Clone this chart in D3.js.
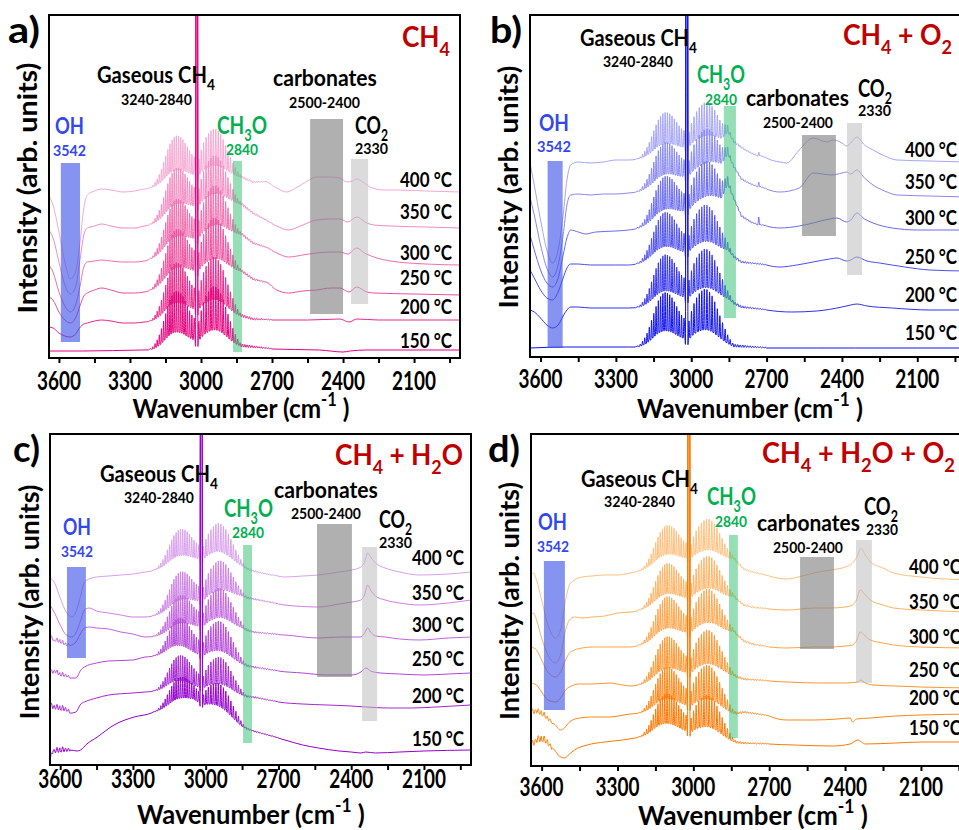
<!DOCTYPE html>
<html><head><meta charset="utf-8">
<script src="https://cdn.jsdelivr.net/npm/d3@7"></script>
<style>html,body{margin:0;padding:0;background:#fff;} svg{display:block}</style>
</head><body>
<svg id="chart" width="959" height="830"></svg>
<script>
const FONT = "Lato, 'Open Sans', 'DejaVu Sans', sans-serif";

// ---------- axis ----------
const xDomain = [3642, 1906];
const ticksMajor = [3600, 3300, 3000, 2700, 2400, 2100];
const ticksMinor = [3450, 3150, 2850, 2550, 2250, 1950];
const temps = ["150 °C", "200 °C", "250 °C", "300 °C", "350 °C", "400 °C"];

// ---------- gas-phase CH4 rotational lines (cm-1) and relative heights ----------
const rLines = [3028.8, 3038.5, 3048.2, 3057.7, 3067.3, 3076.5, 3085.7, 3094.8, 3104.0, 3113.0, 3122.0, 3131.0, 3140.0, 3149.0, 3158.0, 3167.0, 3176.0, 3185.0, 3194.0, 3203.0, 3212.0];
const rRel   = [0.50, 0.55, 0.62, 0.70, 0.78, 0.85, 0.90, 0.93, 0.94, 0.92, 0.87, 0.80, 0.70, 0.58, 0.46, 0.34, 0.24, 0.16, 0.10, 0.05, 0.02];
const pLines = [3009.0, 2999.0, 2989.0, 2978.5, 2968.0, 2958.0, 2948.0, 2937.5, 2927.0, 2917.0, 2906.5, 2896.0, 2886.0, 2875.5, 2865.0, 2855.0, 2845.0, 2835.0];
const pRel   = [0.45, 0.62, 0.75, 0.85, 0.92, 0.97, 1.00, 0.99, 0.95, 0.88, 0.78, 0.66, 0.54, 0.42, 0.31, 0.21, 0.13, 0.07];
const qLines = [3019.5, 3016.5];
const qHeight = 1000;
const weakLines = [2825, 2815, 2805, 2795, 2785, 2775, 2765, 2755, 2745, 2735, 2725, 2715, 2705];
const weakRel   = [0.05, 0.045, 0.04, 0.04, 0.035, 0.03, 0.03, 0.025, 0.025, 0.02, 0.02, 0.015, 0.01];
const h2oLines = [3636, 3625, 3613, 3601, 3590, 3578, 3566];
const h2oRel   = [1.0, 0.6, 1.0, 0.8, 1.0, 0.6, 0.5];

// ---------- panel a: CH4 ----------
const a150 = [[3642,7],[3500,7],[3250,8],[3000,9],[2830,11],[2700,9],[2500,8],[2400,6],[2370,7],[2300,8],[2100,8],[1906,8]];
const a200 = [[3642,31],[3625,30],[3600,25],[3575,22],[3552,21],[3530,24],[3510,31],[3495,34],[3480,35],[3450,37],[3420,38],[3380,37],[3330,35],[3280,35],[3240,36],[3150,38],[3050,40],[2950,41],[2830,41],[2780,38],[2700,38],[2550,38],[2413,39],[2375,36],[2342,39],[2250,38],[2100,38],[1906,38]];
const a250 = [[3642,61],[3625,58],[3600,46],[3575,38],[3552,35],[3530,40],[3510,53],[3495,62],[3480,65],[3450,68],[3420,70],[3380,68],[3330,65],[3280,65],[3240,66],[3150,71],[3050,78],[2950,82],[2870,85],[2830,86],[2780,78],[2720,75],[2680,68],[2630,65],[2570,67],[2512,68],[2450,70],[2413,70],[2375,66],[2342,71],[2300,66],[2270,65],[2100,64],[1906,63]];
const a300 = [[3642,93],[3625,86],[3600,66],[3575,52],[3552,46],[3530,53],[3510,73],[3495,91],[3480,96],[3450,97],[3420,98],[3380,97],[3330,96],[3280,96],[3240,97],[3150,103],[3050,110],[2950,116],[2870,121],[2830,123],[2780,114],[2720,110],[2680,105],[2630,101],[2570,103],[2512,105],[2450,106],[2413,106],[2380,104],[2342,110],[2310,105],[2270,101],[2200,97],[2050,94],[1906,93]];
const a350 = [[3642,128],[3625,120],[3600,96],[3575,73],[3552,64],[3530,71],[3510,100],[3495,123],[3480,130],[3450,132],[3420,134],[3380,132],[3330,130],[3280,130],[3240,132],[3150,136],[3050,143],[2950,148],[2870,152],[2830,153],[2780,144],[2730,138],[2680,132],[2630,128],[2570,133],[2512,138],[2450,139],[2413,139],[2380,136],[2342,141],[2300,135],[2270,133],[2200,132],[2050,131],[1906,130]];
const a400 = [[3642,162],[3625,153],[3600,126],[3575,96],[3552,79],[3530,86],[3510,118],[3495,150],[3480,163],[3450,167],[3420,169],[3380,168],[3330,166],[3280,167],[3240,169],[3150,172],[3050,175],[2950,177],[2870,179],[2830,180],[2780,175],[2723,176],[2680,170],[2638,166],[2600,170],[2550,177],[2512,181],[2450,181],[2413,180],[2384,176],[2360,177],[2342,179],[2310,175],[2286,171],[2230,168],[2173,168],[2050,167],[1906,166]];
const ampA = [62, 60, 58, 56, 54, 52];
const h2oA = [0, 0, 0, 0, 0, 0];
const colA = ["#e5007d", "#e8288c", "#ec509f", "#f06eb0", "#f38cc2", "#f6a9d3"];

// ---------- panel b: CH4 + O2 ----------
const b150 = [[3642,9],[3500,10],[3250,10],[3000,10],[2850,10],[2700,9],[2500,9],[2350,9],[2100,9],[1906,9]];
const b200 = [[3642,47],[3625,45],[3600,39],[3575,32],[3552,29],[3530,32],[3510,41],[3495,47],[3480,50],[3450,50],[3400,49],[3300,49],[3250,49],[3150,50],[2950,53],[2850,55],[2800,49],[2700,47],[2600,45],[2500,46],[2400,50],[2365,52],[2341,53],[2300,51],[2200,49],[2050,47],[1906,47]];
const b250 = [[3642,87],[3625,79],[3600,67],[3575,59],[3552,57],[3530,65],[3510,79],[3495,89],[3480,93],[3450,93],[3400,92],[3300,92],[3250,92],[3150,95],[3050,97],[2950,100],[2880,102],[2855,104],[2830,99],[2800,94],[2700,92],[2647,90],[2580,92],[2515,95],[2450,98],[2420,99],[2381,96],[2365,97],[2341,100],[2300,96],[2250,94],[2150,90],[2050,87],[1906,86]];
const b300 = [[3642,122],[3625,107],[3600,87],[3575,74],[3552,70],[3530,79],[3510,102],[3495,119],[3480,127],[3450,125],[3420,123],[3380,125],[3300,126],[3250,127],[3150,131],[3050,137],[2950,145],[2880,152],[2855,170],[2830,157],[2800,140],[2760,134],[2735,132],[2731,140],[2727,132],[2700,131],[2647,129],[2570,131],[2515,134],[2450,138],[2420,139],[2381,135],[2365,137],[2341,144],[2310,138],[2276,134],[2200,129],[2100,127],[1906,127]];
const b350 = [[3642,160],[3625,142],[3600,112],[3575,89],[3552,80],[3530,92],[3510,122],[3495,152],[3480,162],[3450,163],[3400,162],[3350,163],[3300,163],[3250,164],[3150,167],[3050,172],[2950,179],[2880,187],[2855,200],[2830,189],[2800,177],[2760,172],[2735,170],[2731,175],[2727,170],[2700,168],[2647,165],[2570,169],[2515,184],[2440,182],[2400,184],[2381,185],[2365,183],[2341,187],[2310,179],[2276,172],[2230,166],[2180,162],[2050,161],[1906,160]];
const b400 = [[3642,194],[3625,172],[3600,137],[3575,107],[3552,94],[3530,107],[3510,142],[3495,177],[3480,192],[3450,195],[3400,194],[3350,195],[3300,197],[3250,197],[3150,199],[3050,202],[2950,207],[2880,212],[2855,222],[2830,214],[2790,207],[2750,202],[2735,201],[2731,205],[2727,201],[2700,199],[2647,195],[2620,194],[2570,207],[2515,219],[2460,215],[2435,217],[2400,214],[2381,211],[2365,214],[2341,220],[2310,212],[2276,207],[2230,201],[2181,197],[2050,196],[1906,195]];
const ampB = [58, 55, 52, 50, 48, 47];
const h2oB = [0, 0, 0, 0, 0, 0];
const colB = ["#1010f0", "#3030f0", "#4d4df0", "#6a6af2", "#8888f4", "#a5a5f7"];

// ---------- panel c: CH4 + H2O ----------
const c150 = [[3642,3],[3630,13],[3600,14],[3560,15],[3530,14],[3516,15],[3490,21],[3447,28],[3378,40],[3295,48],[3208,53],[3130,57],[3050,60],[2950,50],[2850,37],[2798,33],[2700,27],[2673,25],[2600,20],[2535,17],[2450,14],[2400,13],[2360,12],[2340,13],[2300,12],[2200,13],[2100,14],[1906,15]];
const c200 = [[3642,58],[3600,56],[3575,55],[3552,52],[3535,53],[3515,61],[3500,63],[3450,67],[3400,70],[3300,72],[3250,73],[3150,75],[3050,73],[2950,70],[2850,68],[2798,67],[2700,63],[2600,61],[2500,60],[2400,59],[2340,58],[2250,57],[2150,57],[2050,58],[1906,60]];
const c250 = [[3642,92],[3620,93],[3600,90],[3575,89],[3552,87],[3535,87],[3515,95],[3500,98],[3450,102],[3400,104],[3300,105],[3250,108],[3150,110],[3050,105],[2950,102],[2850,99],[2798,97],[2700,94],[2600,92],[2500,90],[2400,90],[2360,93],[2340,97],[2320,94],[2280,92],[2200,91],[2100,90],[2000,91],[1906,92]];
const c300 = [[3642,127],[3625,125],[3600,123],[3575,120],[3552,120],[3535,123],[3515,132],[3500,137],[3480,138],[3450,137],[3400,136],[3350,133],[3300,131],[3250,128],[3150,129],[3050,132],[2950,135],[2850,135],[2798,132],[2673,130],[2535,127],[2450,128],[2397,128],[2360,128],[2345,132],[2332,137],[2320,133],[2300,129],[2260,128],[2200,126],[2119,125],[2000,127],[1906,128]];
const c350 = [[3642,160],[3625,153],[3600,140],[3575,130],[3552,128],[3535,132],[3515,145],[3500,155],[3480,157],[3450,154],[3400,152],[3350,150],[3300,148],[3250,148],[3150,151],[3050,157],[2950,162],[2850,167],[2798,165],[2673,160],[2535,158],[2450,161],[2397,163],[2360,165],[2345,170],[2332,180],[2320,175],[2300,169],[2260,165],[2200,162],[2119,160],[2000,162],[1906,165]];
const c400 = [[3642,187],[3625,183],[3600,167],[3575,153],[3552,148],[3535,153],[3515,170],[3500,183],[3480,186],[3450,188],[3400,189],[3350,190],[3300,191],[3250,193],[3150,197],[3050,200],[2950,202],[2850,197],[2798,193],[2740,190],[2673,188],[2600,189],[2535,190],[2450,193],[2397,195],[2360,198],[2345,203],[2332,212],[2320,208],[2300,202],[2260,197],[2200,193],[2119,190],[2000,191],[1906,193]];
const ampC = [32, 38, 42, 42, 42, 40];
const h2oC = [4, 4, 3, 3, 0, 0];
const colC = ["#9400cc", "#a524d2", "#b445d8", "#c163de", "#cd80e5", "#d9a0ec"];

// ---------- panel d: CH4 + H2O + O2 ----------
const d150 = [[3642,19],[3620,25],[3600,26],[3580,24],[3560,18],[3530,10],[3510,8],[3490,12],[3470,16],[3420,21],[3350,24],[3280,26],[3230,28],[3150,31],[3050,29],[2950,26],[2840,23],[2800,22],[2700,22],[2600,21],[2450,20],[2380,22],[2350,26],[2335,24],[2320,22],[2200,23],[2100,24],[1906,24]];
const d200 = [[3642,53],[3620,54],[3600,52],[3580,48],[3550,42],[3525,36],[3510,38],[3490,44],[3450,48],[3400,49],[3330,49],[3250,52],[3150,54],[3050,54],[2950,53],[2840,51],[2800,53],[2761,52],[2700,50],[2629,46],[2524,46],[2430,47],[2380,48],[2370,44],[2355,47],[2300,48],[2200,50],[2100,51],[1906,52]];
const d250 = [[3642,83],[3620,81],[3600,74],[3575,66],[3545,64],[3525,68],[3505,76],[3490,79],[3450,82],[3400,82],[3330,83],[3280,81],[3250,80],[3150,83],[3050,86],[2950,88],[2840,89],[2800,86],[2700,85],[2629,84],[2500,83],[2400,83],[2350,84],[2340,86],[2320,83],[2290,81],[2200,80],[2100,79],[1906,78]];
const d300 = [[3642,119],[3620,116],[3600,106],[3575,94],[3545,89],[3525,94],[3505,106],[3490,113],[3470,116],[3440,118],[3400,119],[3300,119],[3250,119],[3150,123],[3050,126],[2950,129],[2870,131],[2840,133],[2800,124],[2761,121],[2700,119],[2629,118],[2524,119],[2457,119],[2400,120],[2370,121],[2355,125],[2340,134],[2320,130],[2300,126],[2250,123],[2208,121],[2100,119],[1906,118]];
const d350 = [[3642,151],[3632,153],[3620,146],[3600,128],[3575,111],[3545,103],[3525,111],[3505,136],[3490,146],[3470,149],[3440,148],[3400,149],[3350,150],[3300,153],[3250,154],[3150,158],[3050,161],[2950,164],[2870,166],[2840,168],[2800,160],[2761,158],[2700,157],[2629,156],[2524,158],[2457,158],[2400,159],[2370,161],[2355,166],[2340,176],[2320,171],[2300,166],[2250,161],[2208,158],[2100,156],[1906,154]];
const d400 = [[3642,191],[3632,193],[3620,186],[3600,166],[3575,141],[3545,128],[3525,136],[3505,166],[3490,181],[3470,186],[3440,189],[3400,190],[3350,191],[3300,191],[3250,193],[3150,198],[3050,201],[2950,203],[2870,204],[2840,206],[2800,196],[2761,193],[2700,190],[2629,187],[2570,190],[2524,193],[2457,196],[2400,199],[2370,203],[2350,211],[2338,218],[2320,211],[2300,204],[2250,198],[2208,193],[2100,189],[1906,186]];
const ampD = [45, 48, 48, 48, 46, 44];
const h2oD = [5, 4, 0, 0, 0, 0];
const colD = ["#ff7700", "#ff8614", "#ff952e", "#ffa448", "#ffb262", "#ffc07d"];

// ---------- annotation bands (cm-1 ranges) ----------
const ohBand = { a: [3592, 3511], b: [3572, 3512], c: [3572, 3494], d: [3591, 3508] };
const ch3oBand = { a: [2865, 2827], b: [2870, 2822], c: [2846, 2809], d: [2859, 2824] };
const carbBand = { a: [2539, 2400], b: [2559, 2424], c: [2541, 2397], d: [2578, 2444] };
const co2Band = { a: [2366, 2294], b: [2380, 2320], c: [2355, 2293], d: [2357, 2294] };

// ================= drawing =================
const svg = d3.select('#chart');
const defs = svg.append('defs');

function label(parent, o) {
  const g = parent.append('g');
  const t = g.append('text').attr('font-family', FONT).attr('font-size', o.size)
    .attr('font-weight', o.weight || 'bold').attr('fill', o.fill || '#000');
  let shift = 0;
  o.parts.forEach(p => {
    const isObj = typeof p === 'object';
    const kind = isObj ? p.k : 'n';
    const str = isObj ? p.t : p;
    const ts = t.append('tspan').text(str);
    const target = kind === 'sub' ? 0.3 * o.size : kind === 'sup' ? -0.45 * o.size : 0;
    if (target !== shift) { ts.attr('dy', target - shift); shift = target; }
    if (kind !== 'n') ts.attr('font-size', o.size * 0.68);
  });
  const w = t.node().getComputedTextLength();
  const sx = o.width ? o.width / w : 1;
  const tw = w * sx;
  const x0 = o.anchor === 'middle' ? o.x - tw / 2 : o.anchor === 'end' ? o.x - tw : o.x;
  g.attr('transform', `translate(${x0},${o.y}) scale(${sx},1)`);
  return g;
}

const TF = 0.3;
function addGap(pts, bs, amp, c1, e1, c2, e2) {
  // trough between two neighbouring lines c1 > c2
  const a = c1 - (c1 - c2) * 0.32, b = c1 - (c1 - c2) * 0.68;
  const v = amp * TF * (e1 + e2) / 2;
  pts.push([a, bs(a) + v]);
  pts.push([b, bs(b) + v]);
}
function buildSpectrum(base, amp, h2oAmp) {
  const bs = d3.scaleLinear().domain(base.map(d => d[0])).range(base.map(d => d[1]));
  const pts = base.filter(d => d[0] > 3225 || d[0] < 2830).map(d => [d[0], d[1]]);
  pts.push([3222, bs(3222)]);
  for (let i = rLines.length - 1; i >= 0; i--) {
    pts.push([rLines[i], bs(rLines[i]) + amp * rRel[i]]);
    if (i > 0) addGap(pts, bs, amp, rLines[i], rRel[i], rLines[i - 1], rRel[i - 1]);
  }
  pts.push([3023, bs(3023) + amp * TF * rRel[0] * 0.3]);
  qLines.forEach(c => pts.push([c, bs(c) + qHeight]));
  pts.push([3013, bs(3013) + amp * TF * pRel[0] * 0.3]);
  for (let i = 0; i < pLines.length; i++) {
    pts.push([pLines[i], bs(pLines[i]) + amp * pRel[i]]);
    if (i < pLines.length - 1) addGap(pts, bs, amp, pLines[i], pRel[i], pLines[i + 1], pRel[i + 1]);
  }
  pts.push([2830, bs(2830)]);
  weakLines.forEach((c, i) => {
    pts.push([c, bs(c) + amp * weakRel[i]]);
    pts.push([c - 5, bs(c - 5)]);
  });
  if (h2oAmp > 0) {
    h2oLines.forEach((c, i) => {
      pts.push([c, bs(c) + h2oAmp * h2oRel[i]]);
      pts.push([c - 5.5, bs(c - 5.5) - h2oAmp * 0.3]);
    });
  }
  pts.sort((p, q) => q[0] - p[0]);
  const out = [];
  const seen = new Set();
  pts.forEach(p => {
    const k = Math.round(p[0] * 4);
    if (!seen.has(k)) { seen.add(k); out.push(p); }
  });
  return out;
}

const panels = [
  { key: 'a', left: 49, right: 460, top: 15, bottom: 358,
    series: [a150, a200, a250, a300, a350, a400], amps: ampA, h2o: h2oA, colors: colA,
    rectY: { oh: [163, 342], ch3o: [161, 352], carb: [119, 314], co2: [159, 304] },
    letter: { t: 'a)', x: 8, y: 43, w: 32 },
    title: { parts: ['CH', { t: '4', k: 'sub' }], x: 402, y: 47, w: 48 },
    gas: [97, 83, 118], gasNum: [121, 105, 71], carb: [273, 86, 104], carbNum: [289, 108, 71],
    co2: [355, 134, 33], co2Num: [355, 154, 33], oh: [55, 134, 29], ohNum: [53, 156, 33],
    ch3o: [217, 134, 50], ch3oNum: [226, 155, 32],
    tempX: 400, tempY: [348, 314, 285, 260, 219, 187],
    tickY: 390, xTitle: [241, 418, 217], yTitle: [37, 188, 251] },
  { key: 'b', left: 530, right: 966, top: 15, bottom: 357,
    series: [b150, b200, b250, b300, b350, b400], amps: ampB, h2o: h2oB, colors: colB,
    rectY: { oh: [161, 348], ch3o: [106, 318], carb: [135, 236], co2: [123, 275] },
    letter: { t: 'b)', x: 490, y: 43, w: 32 },
    title: { parts: ['CH', { t: '4', k: 'sub' }, ' + O', { t: '2', k: 'sub' }], x: 843, y: 45, w: 109 },
    gas: [580, 46, 117], gasNum: [603, 67, 70], carb: [746, 106, 103], carbNum: [763, 128, 70],
    co2: [858, 97, 34], co2Num: [858, 116, 33], oh: [539, 131, 30], ohNum: [537, 152, 34],
    ch3o: [697, 83, 48], ch3oNum: [705, 105, 32],
    tempX: 905, tempY: [340, 302, 264, 225, 189, 157],
    tickY: 388, xTitle: [750, 418, 226], yTitle: [518, 187, 243] },
  { key: 'c', left: 50, right: 471, top: 434, bottom: 765,
    series: [c150, c200, c250, c300, c350, c400], amps: ampC, h2o: h2oC, colors: colC,
    rectY: { oh: [567, 658], ch3o: [545, 743], carb: [524, 677], co2: [547, 721] },
    letter: { t: 'c)', x: 13, y: 462, w: 27 },
    title: { parts: ['CH', { t: '4', k: 'sub' }, ' + H', { t: '2', k: 'sub' }, 'O'], x: 335, y: 465, w: 128 },
    gas: [100, 482, 118], gasNum: [124, 503, 70], carb: [274, 498, 104], carbNum: [291, 519, 70],
    co2: [379, 528, 33], co2Num: [379, 548, 33], oh: [63, 535, 28], ohNum: [61, 557, 32],
    ch3o: [224, 517, 49], ch3oNum: [232, 538, 32],
    tempX: 412, tempY: [746, 703, 666, 632, 600, 565],
    tickY: 788, xTitle: [251, 824, 228], yTitle: [39, 602, 235] },
  { key: 'd', left: 531, right: 970, top: 434, bottom: 766,
    series: [d150, d200, d250, d300, d350, d400], amps: ampD, h2o: h2oD, colors: colD,
    rectY: { oh: [561, 710], ch3o: [535, 738], carb: [557, 649], co2: [540, 683] },
    letter: { t: 'd)', x: 488, y: 462, w: 32 },
    title: { parts: ['CH', { t: '4', k: 'sub' }, ' + H', { t: '2', k: 'sub' }, 'O + O', { t: '2', k: 'sub' }], x: 762, y: 463, w: 193 },
    gas: [581, 487, 117], gasNum: [604, 507, 71], carb: [757, 531, 103], carbNum: [773, 553, 70],
    co2: [864, 515, 34], co2Num: [866, 535, 32], oh: [538, 530, 29], ohNum: [537, 552, 32],
    ch3o: [707, 505, 49], ch3oNum: [715, 527, 32],
    tempX: 909, tempY: [735, 705, 677, 644, 609, 574],
    tickY: 796, xTitle: [753, 825, 230], yTitle: [519, 601, 238] }
];

const BLUE = '#3347ee', GREEN = '#00b050', RED = '#c00000';

panels.forEach(P => {
  const g = svg.append('g');
  const x = d3.scaleLinear().domain(xDomain).range([P.left, P.right]);
  const y = d3.scaleLinear().domain([0, P.bottom - P.top]).range([P.bottom, P.top]);
  const clipId = 'clip-' + P.key;
  defs.append('clipPath').attr('id', clipId).append('rect')
    .attr('x', P.left).attr('y', P.top).attr('width', P.right - P.left).attr('height', P.bottom - P.top);

  const line = d3.line().x(d => x(d[0])).y(d => y(d[1])).curve(d3.curveMonotoneX);
  const plot = g.append('g').attr('clip-path', `url(#${clipId})`);
  for (let i = P.series.length - 1; i >= 0; i--) {
    plot.append('path')
      .attr('d', line(buildSpectrum(P.series[i], P.amps[i], P.h2o[i])))
      .attr('fill', 'none').attr('stroke', P.colors[i]).attr('stroke-width', 1)
      .attr('stroke-linejoin', 'round');
  }

  // annotation bands
  const bands = [
    [ohBand[P.key], P.rectY.oh, '#3c50e6', 0.62],
    [ch3oBand[P.key], P.rectY.ch3o, '#2ebd6e', 0.5],
    [carbBand[P.key], P.rectY.carb, '#7f7f7f', 0.62],
    [co2Band[P.key], P.rectY.co2, '#bdbdbd', 0.55]
  ];
  bands.forEach(([wr, yr, fill, op]) => {
    plot.append('rect').attr('x', x(wr[0])).attr('width', x(wr[1]) - x(wr[0]))
      .attr('y', yr[0]).attr('height', yr[1] - yr[0]).attr('fill', fill).attr('opacity', op);
  });

  // frame
  g.append('rect').attr('x', P.left).attr('y', P.top)
    .attr('width', P.right - P.left).attr('height', P.bottom - P.top)
    .attr('fill', 'none').attr('stroke', '#000').attr('stroke-width', 2);

  // axis ticks
  const axis = d3.axisBottom(x).tickValues(ticksMajor.concat(ticksMinor)).tickSize(5).tickFormat('');
  const ax = g.append('g').attr('transform', `translate(0,${P.bottom})`).call(axis);
  ax.select('.domain').remove();
  ax.selectAll('line').attr('stroke', '#000').attr('stroke-width', 2);
  ticksMajor.forEach(t => label(g, { x: x(t), y: P.tickY, parts: [String(t)], size: 26, width: 44, anchor: 'middle' }));

  // axis titles
  label(g, { x: P.xTitle[0], y: P.xTitle[1], parts: ['Wavenumber (cm', { t: '-1', k: 'sup' }, ' )'], size: 27, width: P.xTitle[2], anchor: 'middle' });
  const yt = g.append('g').attr('transform', `translate(${P.yTitle[0]},${P.yTitle[1]}) rotate(-90)`);
  label(yt, { x: 0, y: 0, parts: ['Intensity (arb. units)'], size: 26, width: P.yTitle[2], anchor: 'middle' });

  // panel letter & title
  label(g, { x: P.letter.x, y: P.letter.y, parts: [P.letter.t], size: 37, width: P.letter.w });
  label(g, { x: P.title.x, y: P.title.y, parts: P.title.parts, size: 29, width: P.title.w, fill: RED });

  // annotations
  label(g, { x: P.gas[0], y: P.gas[1], parts: ['Gaseous CH', { t: '4', k: 'sub' }], size: 22, width: P.gas[2] });
  label(g, { x: P.gasNum[0], y: P.gasNum[1], parts: ['3240-2840'], size: 15, width: P.gasNum[2] });
  label(g, { x: P.carb[0], y: P.carb[1], parts: ['carbonates'], size: 23, width: P.carb[2] });
  label(g, { x: P.carbNum[0], y: P.carbNum[1], parts: ['2500-2400'], size: 15, width: P.carbNum[2] });
  label(g, { x: P.co2[0], y: P.co2[1], parts: ['CO', { t: '2', k: 'sub' }], size: 24, width: P.co2[2] });
  label(g, { x: P.co2Num[0], y: P.co2Num[1], parts: ['2330'], size: 15, width: P.co2Num[2] });
  label(g, { x: P.oh[0], y: P.oh[1], parts: ['OH'], size: 22, width: P.oh[2], fill: BLUE });
  label(g, { x: P.ohNum[0], y: P.ohNum[1], parts: ['3542'], size: 15, width: P.ohNum[2], fill: BLUE });
  label(g, { x: P.ch3o[0], y: P.ch3o[1], parts: ['CH', { t: '3', k: 'sub' }, 'O'], size: 24, width: P.ch3o[2], fill: GREEN });
  label(g, { x: P.ch3oNum[0], y: P.ch3oNum[1], parts: ['2840'], size: 15, width: P.ch3oNum[2], fill: GREEN });

  temps.forEach((t, i) => label(g, { x: P.tempX, y: P.tempY[i], parts: [t], size: 21, width: 52 }));
});
</script>
</body></html>
